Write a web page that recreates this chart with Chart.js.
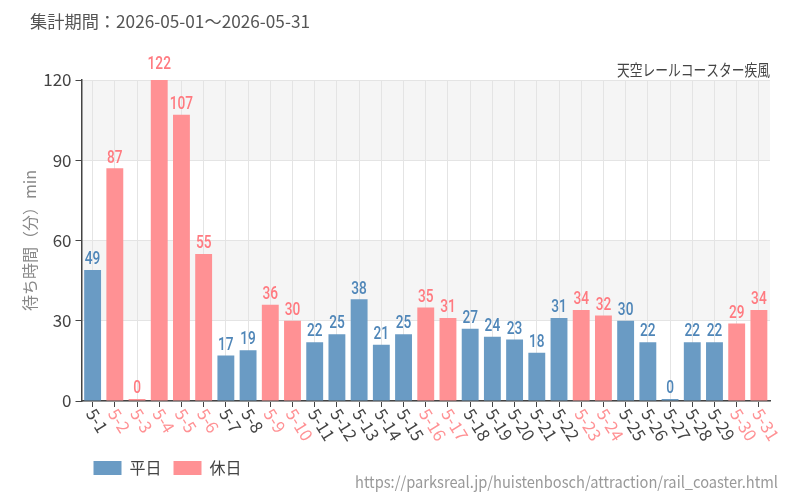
<!DOCTYPE html>
<html><head><meta charset="utf-8">
<script src="https://cdn.jsdelivr.net/npm/chart.js@4"></script>
<style>html,body{margin:0;padding:0;background:#fff}#wrap{width:800px;height:500px}</style>
</head><body><div id="wrap"><canvas id="c" width="800" height="500"></canvas></div>
<script>
const categories = ['5-1','5-2','5-3','5-4','5-5','5-6','5-7','5-8','5-9','5-10','5-11','5-12','5-13','5-14','5-15','5-16','5-17','5-18','5-19','5-20','5-21','5-22','5-23','5-24','5-25','5-26','5-27','5-28','5-29','5-30','5-31'];
const waitMinutes = [49,87,0,122,107,55,17,19,36,30,22,25,38,21,25,35,31,27,24,23,18,31,34,32,30,22,0,22,22,29,34];
const isHoliday = [0,1,1,1,1,1,0,0,1,1,0,0,0,0,0,1,1,0,0,0,0,0,1,1,0,0,0,0,0,1,1];
const seriesNames = ['平日','休日'];
const yTicks = [0,30,60,90,120];
const titleText = '集計期間：2026-05-01～2026-05-31';
const subtitleText = '天空レールコースター疾風';
const yAxisTitle = '待ち時間（分）min';
const sourceText = 'https://parksreal.jp/huistenbosch/attraction/rail_coaster.html';

const BLUE = '#6a9bc4', PINK = '#ff9194';
const BLUE_T = '#4f86b8', PINK_T = '#ff7a80';
const JP = '"Noto Sans CJK JP", "Noto Sans", sans-serif';

const weekdayData = waitMinutes.map((v,i)=> isHoliday[i] ? null : v);
const holidayData = waitMinutes.map((v,i)=> isHoliday[i] ? v : null);

const bands = {
  id:'bands',
  beforeDraw(chart){
    const {ctx, chartArea:a, scales:{y}} = chart;
    ctx.save();
    ctx.fillStyle = '#f5f5f5';
    [[30,60],[90,120]].forEach(([lo,hi])=>{
      const t = y.getPixelForValue(hi), b = y.getPixelForValue(lo);
      ctx.fillRect(a.left, t, a.right-a.left, b-t);
    });
    ctx.restore();
  }
};

function fitText(ctx, text, x, y, width, align){
  const w = ctx.measureText(text).width;
  ctx.save();
  ctx.translate(x, y);
  ctx.scale(width/w, 1);
  ctx.textAlign = align;
  ctx.fillText(text, 0, 0);
  ctx.restore();
}

const extras = {
  id:'extras',
  afterDraw(chart){
    const {ctx, chartArea:a, scales:{x}} = chart;
    ctx.save();
    chart.data.datasets.forEach((ds,di)=>{
      const meta = chart.getDatasetMeta(di);
      meta.data.forEach((el,i)=>{
        const v = ds.data[i];
        if (v === null || v === undefined) return;
        ctx.save();
        ctx.translate(el.x, el.y - 1);
        ctx.scale(0.72,1);
        ctx.font = '500 19px Roboto, sans-serif';
        ctx.fillStyle = di===0 ? BLUE_T : PINK_T;
        ctx.textAlign = 'center';
        ctx.textBaseline = 'bottom';
        ctx.fillText(String(v),0,0);
        ctx.restore();
      });
    });
    categories.forEach((lab,i)=>{
      const px = x.getPixelForTick(i);
      ctx.save();
      ctx.translate(px-2, a.bottom + 9);
      ctx.rotate(58*Math.PI/180);
      ctx.font = '17px ' + JP;
      ctx.fillStyle = isHoliday[i] ? PINK : '#444';
      ctx.textAlign = 'left';
      ctx.textBaseline = 'middle';
      ctx.fillText(lab,0,0);
      ctx.restore();
    });
    ctx.textBaseline = 'middle';
    ctx.font = '17px ' + JP;
    ctx.fillStyle = '#555';
    fitText(ctx, titleText, 30, 22, 280, 'left');
    ctx.font = '16px ' + JP;
    ctx.fillStyle = '#444';
    fitText(ctx, subtitleText, 770, 70, 153, 'right');
    ctx.font = '16px ' + JP;
    ctx.fillStyle = '#999';
    fitText(ctx, sourceText, 778, 482, 423, 'right');
    ctx.restore();
  }
};

new Chart(document.getElementById('c'), {
  type:'bar',
  data:{
    labels: categories,
    datasets:[
      {label: seriesNames[0], data: weekdayData, backgroundColor: BLUE, categoryPercentage:0.8, barPercentage:0.95, minBarLength:2, skipNull:true},
      {label: seriesNames[1], data: holidayData, backgroundColor: PINK, categoryPercentage:0.8, barPercentage:0.95, minBarLength:2, skipNull:true}
    ]
  },
  options:{
    responsive:false,
    animation:false,
    layout:{padding:{top:80, left:20, right:30, bottom:14}},
    scales:{
      x:{
        grid:{offset:false, color:'#e4e4e4', tickColor:'#444', tickLength:6},
        border:{color:'#444', width:1.5},
        ticks:{display:false},
        afterFit(s){ s.height = 47; }
      },
      y:{
        min:0, max:120,
        afterBuildTicks(s){ s.ticks = yTicks.map(v=>({value:v})); },
        grid:{color:'#e4e4e4', tickColor:'#444', tickLength:6},
        border:{color:'#444', width:1.5},
        ticks:{font:{size:17, family:JP}, color:'#444', padding:4},
        title:{display:true, text:yAxisTitle, color:'#888', font:{size:16, family:JP}, padding:{top:0,bottom:0}}
      }
    },
    plugins:{
      legend:{
        position:'bottom', align:'start', fullSize:false,
        labels:{boxWidth:28, boxHeight:14, padding:12, color:'#444', font:{size:16, family:JP}}
      },
      tooltip:{enabled:false}
    }
  },
  plugins:[bands, extras]
});
</script></body></html>
